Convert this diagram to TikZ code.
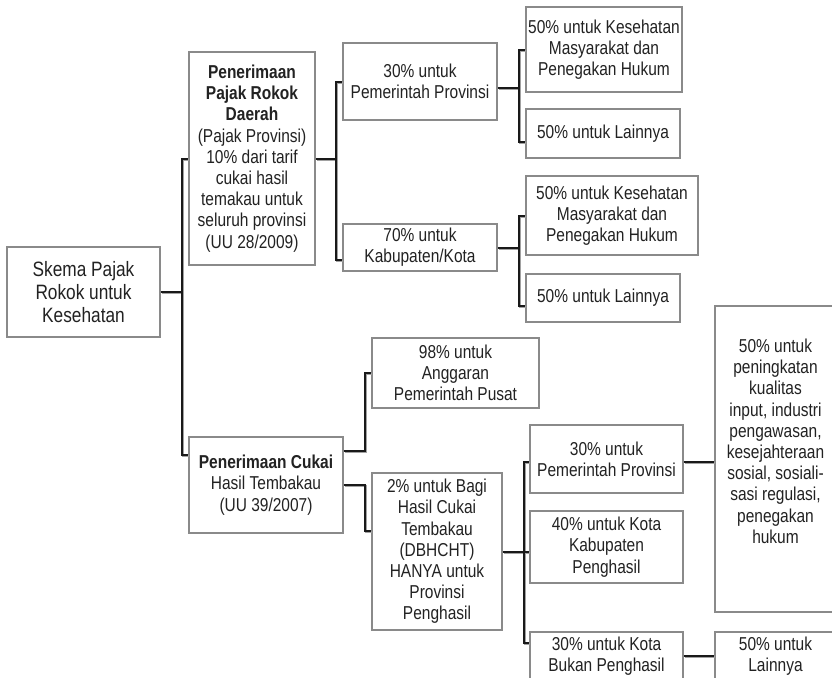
\documentclass[tikz,border=0pt]{standalone}
\usepackage{fontspec}
\setmainfont{Liberation Sans}[FakeStretch=0.83]
\usetikzlibrary{calc,positioning}
\definecolor{garis}{HTML}{8A8A8A}
\definecolor{teks}{HTML}{222222}
\tikzset{kotak/.style={draw=garis, line width=1.1pt, fill=white, align=center, inner sep=0pt, text=teks, font=\fontsize{14}{15.9}\selectfont}}
\tikzset{akar/.style={kotak, font=\fontsize{15.6}{17.3}\selectfont}}
\tikzset{hubung/.style={draw=black!90, line width=1.5pt, preaction={draw=garis!80, line width=1.2pt, transform canvas={shift={(0.9pt,-0.9pt)}}}}}

\begin{document}
\begin{tikzpicture}[x=0.75pt,y=-0.75pt]
    \useasboundingbox (0,0) rectangle (832,678);

    % draw the boxes
    \node[akar, minimum width=114.75pt, minimum height=67.5pt] (akar) at (83.5,292) {Skema Pajak\\Rokok untuk\\Kesehatan};
    \node[kotak, minimum width=94.5pt, minimum height=159.75pt] (pa) at (252,158.5) {\textbf{Penerimaan}\\\textbf{Pajak Rokok}\\\textbf{Daerah}\\(Pajak Provinsi)\\10\% dari tarif\\cukai hasil\\temakau untuk\\seluruh provinsi\\(UU 28/2009)};
    \node[kotak, minimum width=115.5pt, minimum height=72pt] (pb) at (266,485) {\textbf{Penerimaan Cukai}\\Hasil Tembakau\\(UU 39/2007)};

    \node[kotak, minimum width=115.5pt, minimum height=57.75pt] (pa1) at (420,81.5) {30\% untuk\\Pemerintah Provinsi};
    \node[kotak, minimum width=115.5pt, minimum height=35.25pt] (pa2) at (420,247.5) {70\% untuk\\Kabupaten/Kota};
    \node[kotak, minimum width=117pt, minimum height=63.75pt] (pa11) at (604,49.5) {50\% untuk Kesehatan\\Masyarakat dan\\Penegakan Hukum};
    \node[kotak, minimum width=115.5pt, minimum height=36.75pt] (pa12) at (603,133.5) {50\% untuk Lainnya};
    \node[kotak, minimum width=129pt, minimum height=59.25pt] (pa21) at (612,215.5) {50\% untuk Kesehatan\\Masyarakat dan\\Penegakan Hukum};
    \node[kotak, minimum width=115.5pt, minimum height=36pt] (pa22) at (603,298) {50\% untuk Lainnya};

    \node[kotak, minimum width=125.25pt, minimum height=52.5pt] (pb1) at (455.5,373) {98\% untuk\\Anggaran\\Pemerintah Pusat};
    \node[kotak, minimum width=97.5pt, minimum height=117.75pt] (pb2) at (437,551.5) {2\% untuk Bagi\\Hasil Cukai\\Tembakau\\(DBHCHT)\\HANYA untuk\\Provinsi\\Penghasil};
    \node[kotak, minimum width=114.75pt, minimum height=51pt] (pc1) at (606.5,459) {30\% untuk\\Pemerintah Provinsi};
    \node[kotak, minimum width=114.75pt, minimum height=54pt] (pc2) at (606.5,547) {40\% untuk Kota\\Kabupaten\\Penghasil};
    \node[kotak, minimum width=114.75pt, minimum height=36pt] (pc3) at (606.5,656) {30\% untuk Kota\\Bukan Penghasil};
    \node[kotak, minimum width=90.75pt, minimum height=229.5pt] (pd1) at (775.5,459) {50\% untuk\\peningkatan\\kualitas\\input, industri\\pengawasan,\\kesejahteraan\\sosial, sosiali-\\sasi regulasi,\\penegakan\\hukum\\[11pt]~};
    \node[kotak, minimum width=90.75pt, minimum height=36pt] (pd2) at (775.5,656) {50\% untuk\\Lainnya};

    % draw the main branches
    \draw[hubung] (akar.east) -- ++(21,0) coordinate (j0) |- (pa.west);
    \draw[hubung] (j0) |- ($(pb.west)+(0,-30)$);

    % branches of pajak rokok daerah
    \draw[hubung] (pa.east) -- ++(20,0) coordinate (j1) |- (pa1.west);
    \draw[hubung] (j1) |- ($(pa2.west)+(0,12.5)$);
    \draw[hubung] ($(pa1.east)+(0,6.5)$) -- ++(21,0) coordinate (j2) |- (pa11.west);
    \draw[hubung] (j2) |- ($(pa12.west)+(0,8.5)$);
    \draw[hubung] (pa2.east) -- ++(21,0) coordinate (j3) |- (pa21.west);
    \draw[hubung] (j3) |- ($(pa22.west)+(0,8)$);

    % branches of cukai
    \draw[hubung] ($(pb.east)+(0,-34)$) -- ++(21,0) |- (pb1.west);
    \draw[hubung] (pb.east) -- ++(21,0) |- ($(pb2.west)+(0,-20.5)$);
    \draw[hubung] (pb2.east) -- ++(21,0) coordinate (j4) |- ($(pc1.west)+(0,3)$);
    \draw[hubung] (j4) -- (j4 -| pc2.west);
    \draw[hubung] (j4) |- ($(pc3.west)+(0,-13)$);

    % to the right column
    \draw[hubung] ($(pc1.east)+(0,3)$) coordinate (k1) -- (k1 -| pd1.west);
    \draw[hubung] (pc3.east) -- (pc3.east -| pd2.west);
\end{tikzpicture}
\end{document}
